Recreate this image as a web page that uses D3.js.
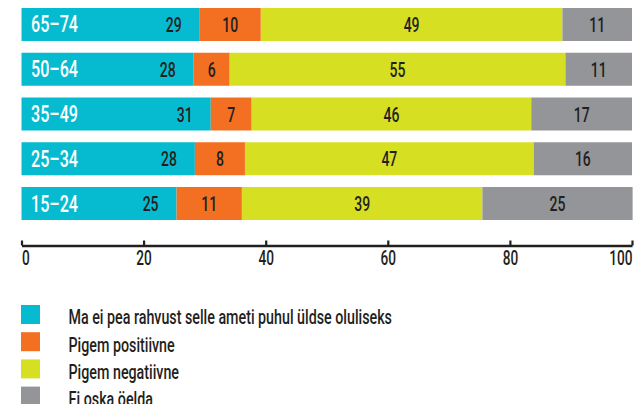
<!DOCTYPE html>
<html>
<head>
<meta charset="utf-8">
<script src="https://cdn.jsdelivr.net/npm/d3@7"></script>
<style>
  body { margin: 0; background: #fff; }
  text { font-family: Roboto, "Liberation Sans", sans-serif; font-weight: 500; fill: #231f20; }
</style>
</head>
<body>
<div id="chart"></div>
<script>
var svgWidth = 637;
var svgHeight = 404;

// Age groups, top to bottom
var ageGroups = ['65-74', '50-64', '35-49', '25-34', '15-24'];

// Series values (%)
var notImportant = [29.2, 28.2, 31.0, 28.4, 25.4];
var ratherPositive = [10.0, 5.9, 6.7, 8.2, 10.7];
var ratherNegative = [49.4, 55.0, 45.8, 47.3, 39.4];
var cannotSay = [11.4, 10.9, 16.5, 16.1, 24.6];

var seriesNames = [
    'Ma ei pea rahvust selle ameti puhul üldse oluliseks',
    'Pigem positiivne',
    'Pigem negatiivne',
    'Ei oska öelda'
];
var seriesColors = ['#06bbd0', '#f36f21', '#d7df23', '#939598'];
var xTicks = [0, 20, 40, 60, 80, 100];

// the original uses a condensed face, so squeeze Roboto horizontally
var squeeze = 0.7;

var keys = ['a', 'b', 'c', 'd'];
var data = ageGroups.map(function(g, i) {
    return { group: g, a: notImportant[i], b: ratherPositive[i], c: ratherNegative[i], d: cannotSay[i] };
});

var svg = d3.select('#chart')
    .append('svg')
    .attr('width', svgWidth)
    .attr('height', svgHeight);

var xScale = d3.scaleLinear()
    .domain([0, 100])
    .range([21.5, 632]);

var yScale = d3.scaleBand()
    .domain(ageGroups)
    .range([8, 220])
    .paddingInner(0.2626)
    .paddingOuter(0);

var stacked = d3.stack().keys(keys)(data);

function place(x, y, s) {
    return 'translate(' + x + ',' + y + ') scale(' + (s || squeeze) + ',1)';
}

// Bars
var layers = svg.selectAll('.layer')
    .data(stacked)
    .enter()
    .append('g')
    .attr('class', 'layer')
    .attr('fill', function(d, i) { return seriesColors[i]; });

layers.selectAll('rect')
    .data(function(d) { return d; })
    .enter()
    .append('rect')
    .attr('x', function(d) { return xScale(d[0]); })
    .attr('y', function(d) { return yScale(d.data.group); })
    .attr('width', function(d) { return xScale(d[1]) - xScale(d[0]); })
    .attr('height', yScale.bandwidth());

// Value labels: first segment right-aligned, the rest centred
stacked.forEach(function(layer, li) {
    svg.selectAll('.val' + li)
        .data(layer)
        .enter()
        .append('text')
        .attr('class', 'val' + li)
        .attr('transform', function(d) {
            var x = li === 0 ? xScale(d[1]) - 18 : (xScale(d[0]) + xScale(d[1])) / 2;
            return place(x, yScale(d.data.group) + yScale.bandwidth() / 2 + 7.5);
        })
        .attr('text-anchor', li === 0 ? 'end' : 'middle')
        .attr('font-size', '20px')
        .text(function(d) { return Math.round(d[1] - d[0]); });
});

// Age labels
svg.selectAll('.age')
    .data(ageGroups)
    .enter()
    .append('text')
    .attr('class', 'age')
    .attr('transform', function(d) { return place(31, yScale(d) + yScale.bandwidth() / 2 + 8); })
    .attr('font-size', '23px')
    .style('fill', '#fff')
    .text(function(d) { return d.replace('-', '–'); });

// Axis
var xAxis = svg.append('g')
    .attr('transform', 'translate(0,245.5)')
    .call(d3.axisBottom(xScale).tickValues(xTicks).tickSizeInner(-5).tickSizeOuter(0));

xAxis.attr('font-family', null).attr('font-size', null);
xAxis.select('.domain').attr('stroke', '#231f20').attr('stroke-width', 2.5);
xAxis.selectAll('.tick line').attr('stroke', '#231f20').attr('stroke-width', 2.2);
xAxis.selectAll('.tick text')
    .attr('y', 19.5)
    .attr('dy', 0)
    .attr('transform', 'scale(' + squeeze + ',1)')
    .attr('font-size', '19.5px')
    .attr('text-anchor', function(d) { return d === 0 ? 'start' : (d === 100 ? 'end' : 'middle'); })
    .style('fill', '#231f20');

// Legend
var legend = svg.selectAll('.legend')
    .data(seriesNames)
    .enter()
    .append('g')
    .attr('class', 'legend')
    .attr('transform', function(d, i) { return 'translate(21,' + (305 + i * 27.2) + ')'; });

legend.append('rect')
    .attr('width', 19)
    .attr('height', 19)
    .attr('fill', function(d, i) { return seriesColors[i]; });

legend.append('text')
    .attr('transform', place(47.5, 19.3, 0.68))
    .attr('font-size', '21px')
    .text(function(d) { return d; });
</script>
</body>
</html>
